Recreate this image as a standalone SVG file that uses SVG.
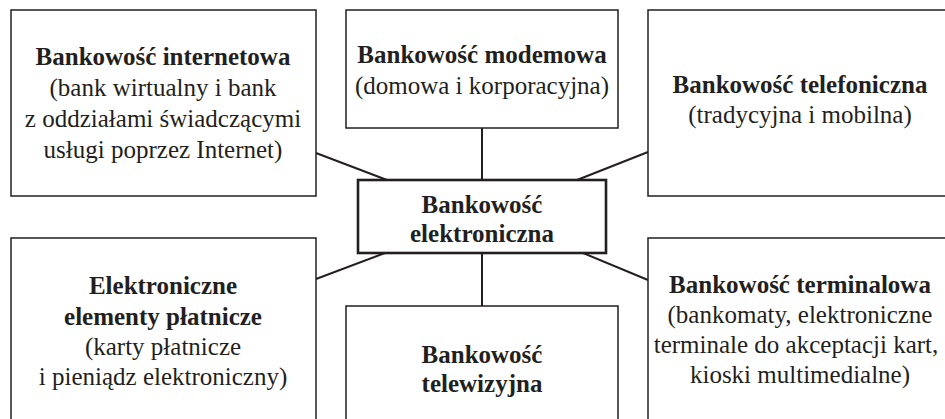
<svg xmlns="http://www.w3.org/2000/svg" width="945" height="419" viewBox="0 0 945 419">
<style>
.box{fill:#fff;stroke:#231f20;stroke-width:1.5}
.main{fill:#fff;stroke:#231f20;stroke-width:2.6}
.con line{stroke:#231f20;stroke-width:2}
text{font-family:"Times New Roman",Times,"Liberation Serif","Nimbus Roman","DejaVu Serif",serif;font-size:25px;fill:#231f20;text-anchor:middle}
.b{font-weight:bold}
</style>
<rect width="945" height="419" fill="#fff"/>
<g class="con">
<line x1="316" y1="153" x2="387" y2="180"/>
<line x1="482" y1="128" x2="482" y2="180"/>
<line x1="648" y1="152" x2="577" y2="180"/>
<line x1="316" y1="279" x2="385" y2="253"/>
<line x1="482" y1="253" x2="482" y2="306"/>
<line x1="648" y1="280" x2="583" y2="253"/>
</g>
<g id="internetowa">
<rect class="box" x="11" y="10" width="305" height="186"/>
<text x="163" y="65" class="b">Bankowość internetowa</text>
<text x="163" y="96">(bank wirtualny i bank</text>
<text x="163" y="127">z oddziałami świadczącymi</text>
<text x="163" y="158">usługi poprzez Internet)</text>
</g>
<g id="modemowa">
<rect class="box" x="346" y="10" width="272" height="118"/>
<text x="482" y="63" class="b">Bankowość modemowa</text>
<text x="482" y="94">(domowa i korporacyjna)</text>
</g>
<g id="telefoniczna">
<rect class="box" x="648" y="10" width="320" height="186"/>
<text x="800" y="92.5" class="b">Bankowość telefoniczna</text>
<text x="800" y="123">(tradycyjna i mobilna)</text>
</g>
<g id="elektroniczna">
<rect class="main" x="358" y="180" width="248" height="73"/>
<text x="482" y="212.5" class="b">Bankowość</text>
<text x="482" y="241.5" class="b">elektroniczna</text>
</g>
<g id="elementy">
<rect class="box" x="11" y="238" width="305" height="200"/>
<text x="163" y="294" class="b">Elektroniczne</text>
<text x="163" y="325" class="b">elementy płatnicze</text>
<text x="163" y="355">(karty płatnicze</text>
<text x="163" y="385">i pieniądz elektroniczny)</text>
</g>
<g id="telewizyjna">
<rect class="box" x="346" y="306" width="272" height="130"/>
<text x="482" y="363" class="b">Bankowość</text>
<text x="482" y="392" class="b">telewizyjna</text>
</g>
<g id="terminalowa">
<rect class="box" x="648" y="238" width="320" height="200"/>
<text x="800" y="293" class="b">Bankowość terminalowa</text>
<text x="800" y="323">(bankomaty, elektroniczne</text>
<text x="796" y="353">terminale do akceptacji kart,</text>
<text x="800" y="383">kioski multimedialne)</text>
</g>
</svg>
